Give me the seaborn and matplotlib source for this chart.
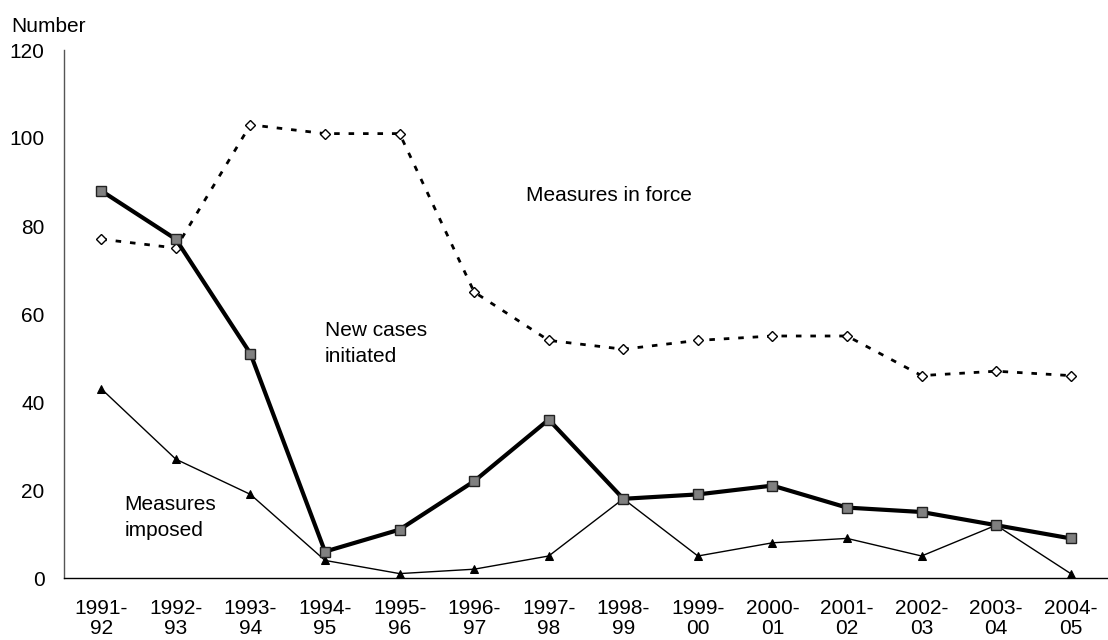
import numpy as np
import pandas as pd
import matplotlib.pyplot as plt
import seaborn as sns

years = ["1991-\n92", "1992-\n93", "1993-\n94", "1994-\n95", "1995-\n96", "1996-\n97",
         "1997-\n98", "1998-\n99", "1999-\n00", "2000-\n01", "2001-\n02", "2002-\n03",
         "2003-\n04", "2004-\n05"]
measures_in_force = [77, 75, 103, 101, 101, 65, 54, 52, 54, 55, 55, 46, 47, 46]
new_cases = [88, 77, 51, 6, 11, 22, 36, 18, 19, 21, 16, 15, 12, 9]
measures_imposed = [43, 27, 19, 4, 1, 2, 5, 18, 5, 8, 9, 5, 12, 1]

sns.set_style("white")
plt.rcParams['font.family'] = ['Liberation Sans', 'DejaVu Sans']
plt.rcParams['text.color'] = 'black'
plt.rcParams['xtick.color'] = 'black'
plt.rcParams['ytick.color'] = 'black'

df = pd.DataFrame({
    "pos": np.arange(len(years)),
    "force": measures_in_force,
    "new": new_cases,
    "imposed": measures_imposed,
})

fig = plt.figure(figsize=(11.08, 6.4), dpi=100)
ax = fig.add_axes([64 / 1108, 1 - 578 / 640, 1 - 64 / 1108, (578 - 50) / 640])

sns.lineplot(data=df, x="pos", y="force", ax=ax, color="black", linewidth=2,
             marker="D", markersize=5, markerfacecolor="white", markeredgecolor="black",
             markeredgewidth=1, dashes=False)
ax.lines[-1].set_dashes((2, 3.2))
sns.lineplot(data=df, x="pos", y="imposed", ax=ax, color="black", linewidth=1,
             marker="^", markersize=6, markerfacecolor="black", markeredgecolor="black")
sns.lineplot(data=df, x="pos", y="new", ax=ax, color="black", linewidth=3,
             marker="s", markersize=7, markerfacecolor="#808080", markeredgecolor="#222222",
             markeredgewidth=1)

ax.set_xlim(-0.5, 13.38)
ax.set_ylim(0, 120)
ax.set_yticks(range(0, 121, 20))
ax.set_xticks(np.arange(-0.5, 13.6, 1.0))
ax.set_xticklabels([])
ax.set_xticks(np.arange(len(years)), minor=True)
ax.set_xticklabels(years, minor=True, fontsize=15, linespacing=1.1)
ax.tick_params(axis="x", which="major", direction="out", length=7, width=1, color="black")
ax.tick_params(axis="x", which="minor", length=0, pad=15)
ax.tick_params(axis="y", direction="out", length=6, width=1, color="#555555", labelsize=15, pad=8)
ax.set_xlabel("")
ax.set_ylabel("")
sns.despine(ax=ax)
ax.spines["left"].set_color("#555555")
ax.spines["left"].set_linewidth(1)
ax.spines["bottom"].set_color("black")
ax.spines["bottom"].set_linewidth(1)

fig.text(11 / 1108, 1 - 27 / 640, "Number", fontsize=15, va="center", ha="left")
ax.text(5.7, 87, "Measures in force", fontsize=15, va="center", ha="left")
ax.text(3.0, 53.3, "New cases\ninitiated", fontsize=15, va="center", ha="left", linespacing=1.5)
ax.text(0.31, 13.75, "Measures\nimposed", fontsize=15, va="center", ha="left", linespacing=1.4)

fig.savefig("out.png", dpi=100)
